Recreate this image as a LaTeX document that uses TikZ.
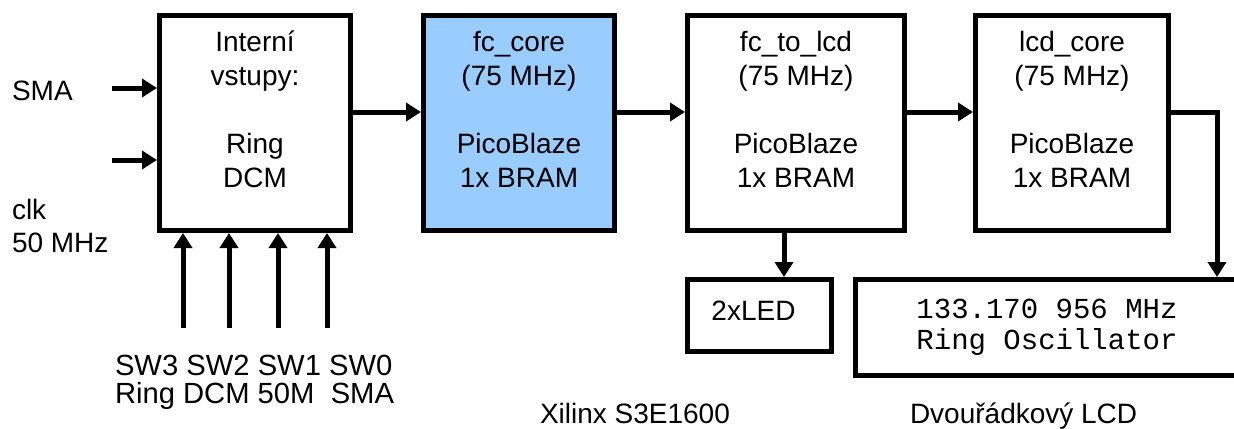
\documentclass[tikz,border=0pt]{standalone}
\usepackage{fontspec}
\setmainfont{Liberation Sans}
\setmonofont{Liberation Mono}
\usepackage{tikz}
\usetikzlibrary{arrows.meta,positioning}
\definecolor{coreblue}{RGB}{153,204,255}

\begin{document}
\begin{tikzpicture}[
    x=0.5pt, y=-0.5pt,
    every node/.style={font=\fontsize{14}{17}\selectfont},
    unit/.style={rectangle, draw=black, line width=2.5pt, fill=white, minimum width=95.5pt, minimum height=107.5pt},
    unittext/.style={inner sep=0pt, outer sep=0pt, align=center, execute at begin node=\strut},
    smallbox/.style={rectangle, draw=black, line width=2.5pt, minimum width=72pt, minimum height=36pt},
    lcdbox/.style={rectangle, draw=black, line width=2.5pt, minimum width=197.25pt, minimum height=48pt},
    caption/.style={inner sep=0pt, outer sep=0pt, align=left},
    arrow/.style={line width=2.5pt, -{Triangle[length=7.5pt, width=9pt]}}
]
\useasboundingbox (0,0) rectangle (1234,428);
\clip (0,0) rectangle (1234,428);

% FPGA units
\node[unit] (intern) at (255,123) {};
\node[unit, fill=coreblue, right=34pt of intern] (fccore) {};
\node[unit, minimum width=108.5pt, right=34pt of fccore] (fctolcd) {};
\node[unit, minimum width=96.5pt, right=33pt of fctolcd] (lcdcore) {};

% unit texts
\node[unittext, below=9.1pt of intern.north] (interntxt) {Interní\\vstupy:\\[17pt]Ring\\DCM};
\node[unittext, below=9.1pt of fccore.north] (fccoretxt) {fc\_core\\(75 MHz)\\[17pt]PicoBlaze\\1x BRAM};
\node[unittext, below=9.1pt of fctolcd.north] (fctolcdtxt) {fc\_to\_lcd\\(75 MHz)\\[17pt]PicoBlaze\\1x BRAM};
\node[unittext, below=9.1pt of lcdcore.north] (lcdcoretxt) {lcd\_core\\(75 MHz)\\[17pt]PicoBlaze\\1x BRAM};

% outputs
\node[smallbox, below=22pt of fctolcd.south west, anchor=north west] (led) {};
\node[inner sep=0pt, anchor=base] (ledtxt) at (753.5,320) {2xLED};
\node[lcdbox, right=9.5pt of led.north east, anchor=north west] (lcd) {};
\node[inner sep=0pt, align=left, font=\fontsize{14.5}{15.5}\selectfont\ttfamily] (lcdtxt) at (1047,327.5) {133.170 956 MHz\\Ring Oscillator};

% inputs
\coordinate (smain) at (112,88);
\coordinate (clkin) at (112,160);
\draw[arrow] (smain) -- (smain -| intern.west);
\draw[arrow] (clkin) -- (clkin -| intern.west);
\foreach \x/\n in {183/3,229/2,278/1,327/0} {
  \coordinate (sw\n) at (\x,328);
  \draw[arrow] (sw\n) -- (sw\n |- intern.south);
}

% data path
\draw[arrow] ([yshift=5.5pt]intern.east) -- ([yshift=5.5pt]fccore.west);
\draw[arrow] ([yshift=5.5pt]fccore.east) -- ([yshift=5.5pt]fctolcd.west);
\draw[arrow] ([yshift=5.5pt]fctolcd.east) -- ([yshift=5.5pt]lcdcore.west);
\coordinate (ledtap) at ([xshift=-6pt]fctolcd.south);
\draw[arrow] (ledtap) -- (ledtap |- led.north);
\coordinate (drop) at (1217,0);
\draw[arrow] ([yshift=5.5pt]lcdcore.east) -| (drop |- lcd.north);

% labels
\node[caption, anchor=base west] (smalbl) at (12,100) {SMA};
\node[caption, anchor=north west, font=\fontsize{14}{16.5}\selectfont, execute at begin node=\strut] (clklbl) at (12,198.9) {clk\\50 MHz};
\node[caption, anchor=north west, font=\fontsize{14.6}{14}\selectfont, execute at begin node=\strut] (swlbl) at (115,355.4) {SW3 SW2 SW1 SW0\\Ring DCM 50M~~SMA};
\node[caption, anchor=base west] (fpgalbl) at (540,423) {Xilinx S3E1600};
\node[caption, anchor=base west] (lcdlbl) at (910,423) {Dvouřádkový LCD};

\end{tikzpicture}
\end{document}
